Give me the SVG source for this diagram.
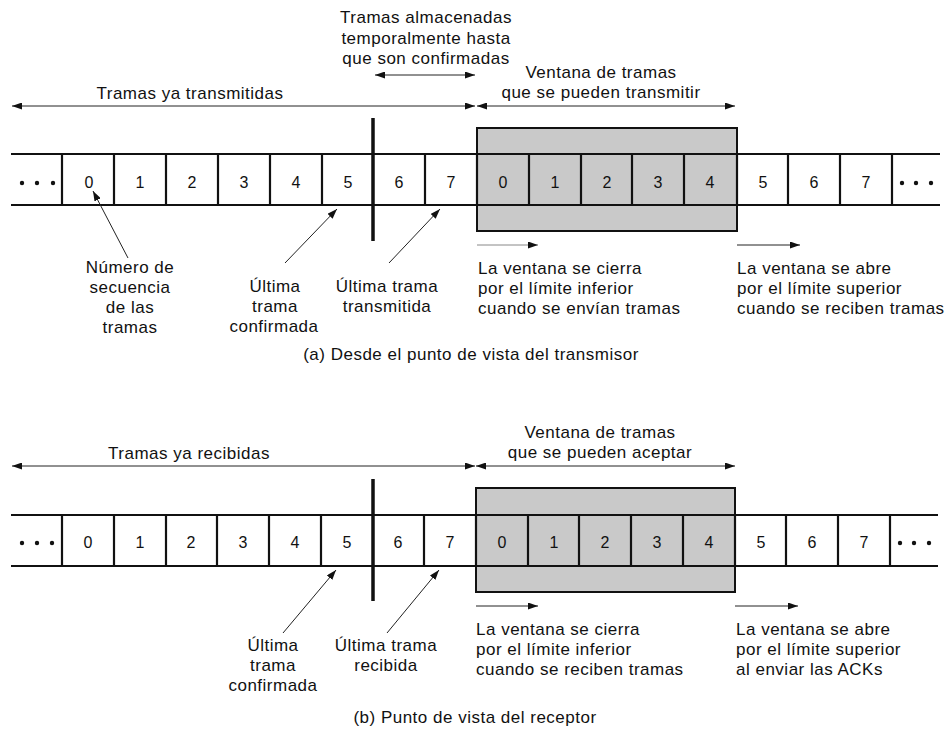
<svg xmlns="http://www.w3.org/2000/svg" width="948" height="731" viewBox="0 0 948 731">
<style>
text{font-family:"Liberation Sans",Arial,sans-serif;font-size:17px;fill:#111;letter-spacing:0.5px}
.c{text-anchor:middle}
.num{text-anchor:middle;font-size:16px;letter-spacing:0}
.strip{stroke:#111;stroke-width:2.2;fill:none}
.thick{stroke:#111;stroke-width:3.5}
.win{fill:#c9c9c9;stroke:#111;stroke-width:2}
.arr{stroke:#222;stroke-width:1;fill:none}
.arrl{stroke:#888;stroke-width:1;fill:none}
.dot{fill:#111}
</style>
<defs>
<marker id="ah" viewBox="0 0 10 7" refX="10" refY="3.5" markerWidth="10" markerHeight="7" markerUnits="userSpaceOnUse" orient="auto-start-reverse">
<path d="M0,0 L10,3.5 L0,7 z" fill="#111"/>
</marker>
</defs>

<!-- (a) transmitter -->
<g id="windowA">
<rect class="win" x="477" y="128" width="260" height="103"/>
</g>
<g id="stripA">
<path class="strip" d="M11,154 H940 M11,205 H940 M62,154 V205 M114,154 V205 M166,154 V205 M218,154 V205 M270,154 V205 M322,154 V205 M425,154 V205 M477,154 V205 M529,154 V205 M581,154 V205 M632,154 V205 M684,154 V205 M737,154 V205 M788,154 V205 M840,154 V205 M892,154 V205"/>
<line class="thick" x1="373" y1="118" x2="373" y2="241"/>
<circle class="dot" cx="22" cy="183" r="2.2"/><circle class="dot" cx="37" cy="183" r="2.2"/><circle class="dot" cx="53" cy="183" r="2.2"/>
<circle class="dot" cx="902" cy="183" r="2.2"/><circle class="dot" cx="916" cy="183" r="2.2"/><circle class="dot" cx="931" cy="183" r="2.2"/>
<text class="num" x="89" y="188">0</text>
<text class="num" x="140" y="188">1</text>
<text class="num" x="192" y="188">2</text>
<text class="num" x="244" y="188">3</text>
<text class="num" x="296" y="188">4</text>
<text class="num" x="348" y="188">5</text>
<text class="num" x="399" y="188">6</text>
<text class="num" x="451" y="188">7</text>
<text class="num" x="503" y="188">0</text>
<text class="num" x="555" y="188">1</text>
<text class="num" x="607" y="188">2</text>
<text class="num" x="658" y="188">3</text>
<text class="num" x="710" y="188">4</text>
<text class="num" x="763" y="188">5</text>
<text class="num" x="814" y="188">6</text>
<text class="num" x="866" y="188">7</text>
</g>
<g id="labelsA">
<text class="c" x="426" y="23">Tramas almacenadas</text>
<text class="c" x="426" y="44">temporalmente hasta</text>
<text class="c" x="426" y="64">que son confirmadas</text>
<text class="c" x="190" y="99">Tramas ya transmitidas</text>
<text class="c" x="601" y="78">Ventana de tramas</text>
<text class="c" x="601" y="98">que se pueden transmitir</text>
<text class="c" x="130" y="273">Número de</text>
<text class="c" x="130" y="293">secuencia</text>
<text class="c" x="130" y="313">de las</text>
<text class="c" x="130" y="333">tramas</text>
<text class="c" x="275" y="292">Última</text>
<text class="c" x="275" y="312">trama</text>
<text class="c" x="274" y="332">confirmada</text>
<text class="c" x="387" y="292">Última trama</text>
<text class="c" x="387" y="312">transmitida</text>
<text x="478" y="274">La ventana se cierra</text>
<text x="478" y="294">por el límite inferior</text>
<text x="478" y="314">cuando se envían tramas</text>
<text x="737" y="274">La ventana se abre</text>
<text x="737" y="294">por el límite superior</text>
<text x="737" y="314">cuando se reciben tramas</text>
<text class="c" x="471" y="360">(a) Desde el punto de vista del transmisor</text>
</g>

<!-- (b) receiver -->
<g id="windowB">
<rect class="win" x="476" y="488" width="259" height="104"/>
</g>
<g id="stripB">
<path class="strip" d="M11,515 H938 M11,566 H938 M62,515 V566 M114,515 V566 M166,515 V566 M217,515 V566 M269,515 V566 M321,515 V566 M424,515 V566 M476,515 V566 M528,515 V566 M579,515 V566 M631,515 V566 M683,515 V566 M735,515 V566 M786,515 V566 M838,515 V566 M890,515 V566"/>
<line class="thick" x1="373" y1="479" x2="373" y2="601"/>
<circle class="dot" cx="22" cy="543" r="2.2"/><circle class="dot" cx="37" cy="543" r="2.2"/><circle class="dot" cx="52" cy="543" r="2.2"/>
<circle class="dot" cx="900" cy="543" r="2.2"/><circle class="dot" cx="914" cy="543" r="2.2"/><circle class="dot" cx="929" cy="543" r="2.2"/>
<text class="num" x="88" y="548">0</text>
<text class="num" x="140" y="548">1</text>
<text class="num" x="191" y="548">2</text>
<text class="num" x="243" y="548">3</text>
<text class="num" x="295" y="548">4</text>
<text class="num" x="347" y="548">5</text>
<text class="num" x="398" y="548">6</text>
<text class="num" x="450" y="548">7</text>
<text class="num" x="502" y="548">0</text>
<text class="num" x="554" y="548">1</text>
<text class="num" x="605" y="548">2</text>
<text class="num" x="657" y="548">3</text>
<text class="num" x="709" y="548">4</text>
<text class="num" x="761" y="548">5</text>
<text class="num" x="812" y="548">6</text>
<text class="num" x="864" y="548">7</text>
</g>
<g id="labelsB">
<text class="c" x="189" y="459">Tramas ya recibidas</text>
<text class="c" x="600" y="438">Ventana de tramas</text>
<text class="c" x="600" y="458">que se pueden aceptar</text>
<text class="c" x="273" y="651">Última</text>
<text class="c" x="273" y="671">trama</text>
<text class="c" x="273" y="691">confirmada</text>
<text class="c" x="386" y="651">Última trama</text>
<text class="c" x="386" y="671">recibida</text>
<text x="476" y="635">La ventana se cierra</text>
<text x="476" y="655">por el límite inferior</text>
<text x="476" y="675">cuando se reciben tramas</text>
<text x="736" y="635">La ventana se abre</text>
<text x="736" y="655">por el límite superior</text>
<text x="736" y="675">al enviar las ACKs</text>
<text class="c" x="475" y="723">(b) Punto de vista del receptor</text>
</g>

<g id="connectors">
<line class="arr" x1="12" y1="106" x2="475" y2="106" marker-start="url(#ah)" marker-end="url(#ah)"/>
<line class="arr" x1="477" y1="106" x2="735" y2="106" marker-start="url(#ah)" marker-end="url(#ah)"/>
<line class="arr" x1="375" y1="75" x2="475" y2="75" marker-start="url(#ah)" marker-end="url(#ah)"/>
<line class="arr" x1="128" y1="258" x2="93" y2="191" marker-end="url(#ah)"/>
<line class="arr" x1="285" y1="263" x2="337" y2="209" marker-end="url(#ah)"/>
<line class="arr" x1="389" y1="263" x2="440" y2="209" marker-end="url(#ah)"/>
<line class="arrl" x1="477" y1="245" x2="538" y2="245" marker-end="url(#ah)"/>
<line class="arr" x1="737" y1="245" x2="800" y2="245" marker-end="url(#ah)"/>

<line class="arr" x1="12" y1="466" x2="475" y2="466" marker-start="url(#ah)" marker-end="url(#ah)"/>
<line class="arr" x1="476" y1="466" x2="735" y2="466" marker-start="url(#ah)" marker-end="url(#ah)"/>
<line class="arr" x1="283" y1="633" x2="336" y2="570" marker-end="url(#ah)"/>
<line class="arr" x1="387" y1="633" x2="439" y2="570" marker-end="url(#ah)"/>
<line class="arr" x1="476" y1="606" x2="538" y2="606" marker-end="url(#ah)"/>
<line class="arr" x1="735" y1="606" x2="798" y2="606" marker-end="url(#ah)"/>
</g>
</svg>
